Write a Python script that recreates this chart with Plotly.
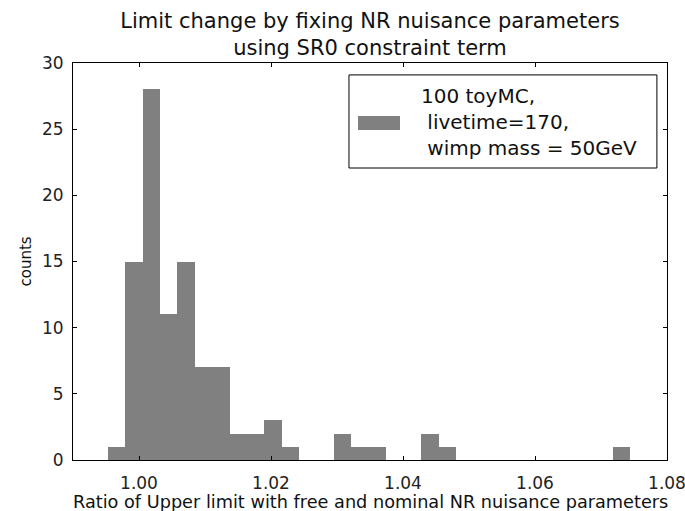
import plotly.graph_objects as go

# histogram data (30 equal bins)
bin_start = 0.99526
bin_width = 0.002638
counts = [1, 15, 28, 11, 15, 7, 7, 2, 2, 3,
          1, 0, 0, 2, 1, 1, 0, 0, 2, 1,
          0, 0, 0, 0, 0, 0, 0, 0, 0, 1]
centers = [bin_start + bin_width * (i + 0.5) for i in range(len(counts))]

x_ticks = [1.00, 1.02, 1.04, 1.06, 1.08]
y_ticks = [0, 5, 10, 15, 20, 25, 30]
legend_label = "100 toyMC,<br> livetime=170,<br> wimp mass = 50GeV"
x_title = "Ratio of Upper limit with free and nominal NR nuisance parameters"
y_title = "counts"
title_text = "Limit change by fixing NR nuisance parameters<br>using SR0 constraint term"

FONT = "DejaVu Sans"
BAR_COLOR = "#808080"

fig = go.Figure()
fig.add_trace(go.Bar(
    x=centers, y=counts, width=[bin_width] * len(counts),
    marker=dict(color=BAR_COLOR, line=dict(width=0)),
    name="100 toyMC, livetime=170, wimp mass = 50GeV",
    showlegend=False,
))

axis_common = dict(
    showgrid=False, zeroline=False, showline=True, linecolor="black", linewidth=1,
    mirror="allticks", ticks="inside", ticklen=4, tickcolor="black",
    tickfont=dict(family=FONT, size=17, color="#222222"),
    ticklabeloverflow="allow", automargin=False,
)

# axis titles placed as annotations (matplotlib-like positions)
fig.add_annotation(xref="paper", yref="paper", x=0.5, y=-0.1058,
                   xanchor="center", yanchor="middle", showarrow=False,
                   text=x_title, font=dict(family=FONT, size=17.7, color="#111111"))
fig.add_annotation(xref="paper", yref="paper", x=-0.0808, y=0.5,
                   xanchor="center", yanchor="middle", showarrow=False, textangle=-90,
                   text=y_title, font=dict(family=FONT, size=15, color="#111111"))

# matplotlib-style legend box (drawn in paper coordinates)
fig.add_shape(type="rect", xref="paper", yref="paper",
              x0=0.4646, x1=0.983, y0=0.7355, y1=0.970,
              line=dict(color="black", width=1), fillcolor="white", layer="above")
fig.add_shape(type="rect", xref="paper", yref="paper",
              x0=0.4798, x1=0.5505, y0=0.831, y1=0.8665,
              line=dict(width=0), fillcolor=BAR_COLOR, layer="above")
fig.add_annotation(xref="paper", yref="paper", x=0.583, y=0.852,
                   xanchor="left", yanchor="middle", align="left", showarrow=False,
                   text=legend_label,
                   font=dict(family=FONT, size=20, color="#111111"))

fig.update_layout(
    width=685, height=511,
    margin=dict(l=73, r=18, t=63, b=51),
    paper_bgcolor="white", plot_bgcolor="white",
    font=dict(family=FONT, color="black"),
    title=dict(
        text=title_text,
        x=0.5, xref="paper", y=0.946, yref="container", yanchor="top",
        font=dict(family=FONT, size=21, color="#111111"),
    ),
    bargap=0,
    xaxis=dict(range=[0.99, 1.08], tickvals=x_ticks, ticktext=[f"{v:.2f}" for v in x_ticks],
               ticklabelstandoff=8, **axis_common),
    yaxis=dict(range=[0, 30], tickvals=y_ticks, ticklabelstandoff=5, **axis_common),
    showlegend=False,
)

fig.write_html("out.html")
